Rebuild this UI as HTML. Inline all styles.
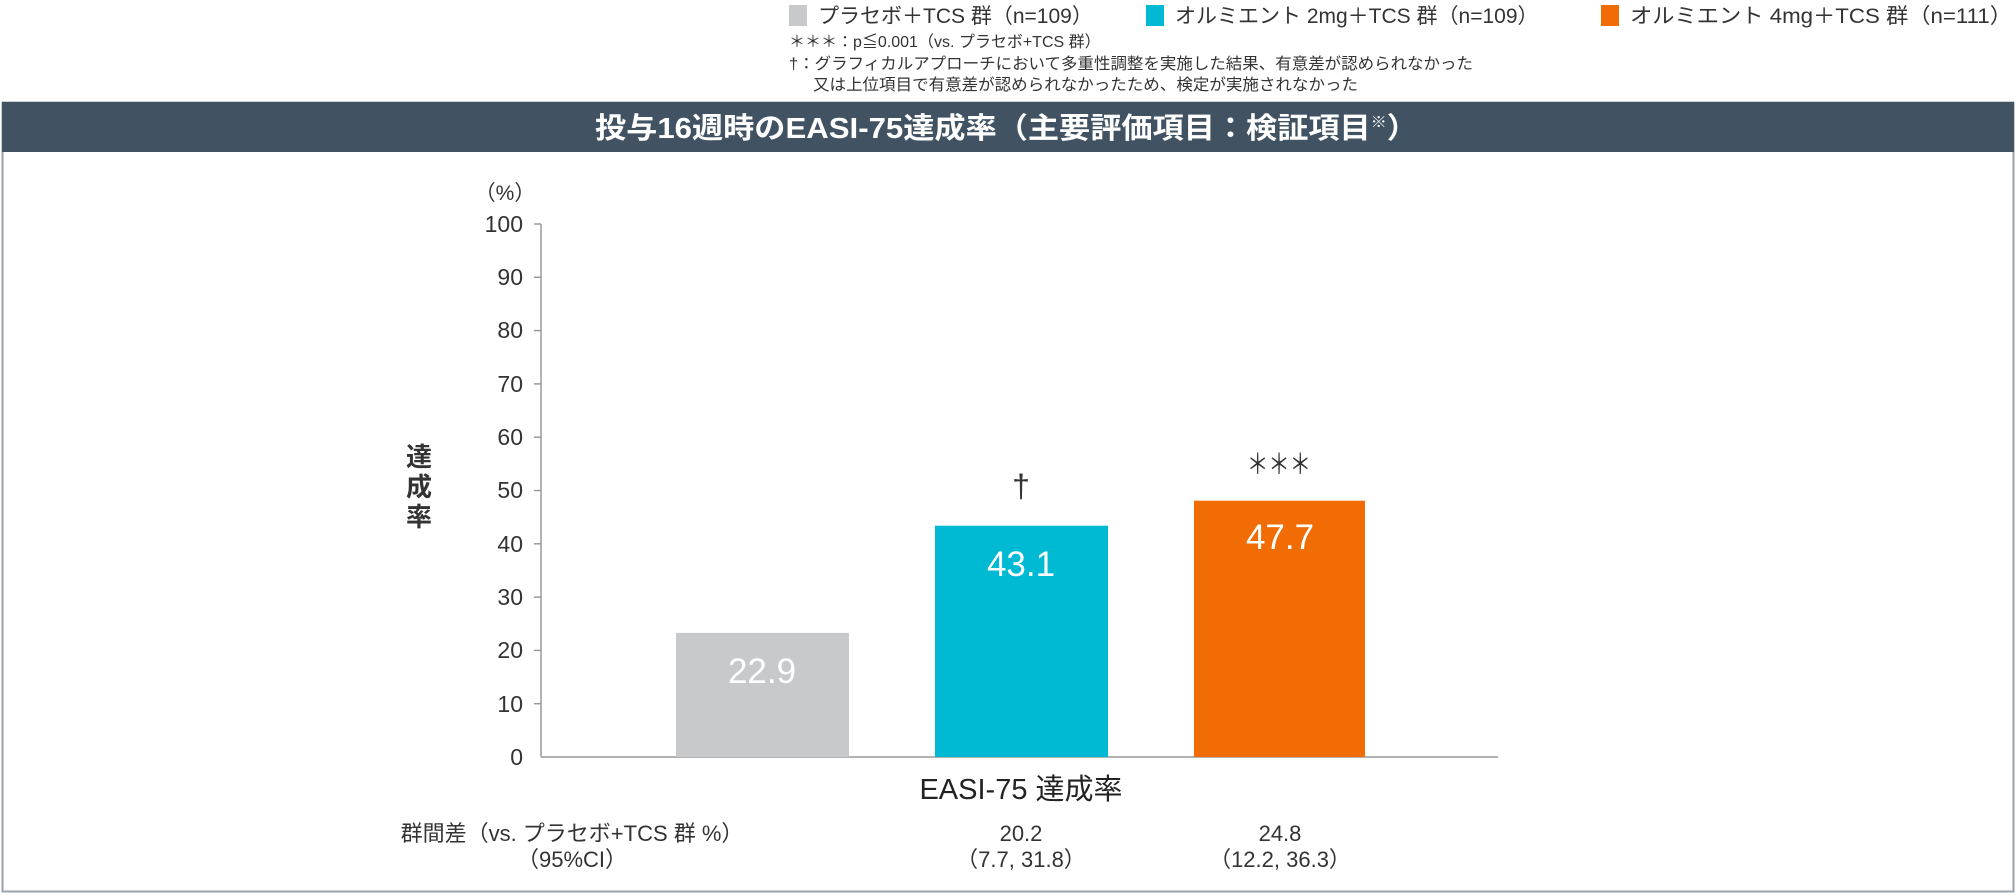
<!DOCTYPE html>
<html><head><meta charset="utf-8"><style>
html,body{margin:0;padding:0;background:#fff;width:2016px;height:895px;overflow:hidden}
svg text{font-family:"Liberation Sans","Noto Sans CJK JP",sans-serif}
</style></head><body>
<svg width="2016" height="895" viewBox="0 0 2016 895" xmlns="http://www.w3.org/2000/svg">
<rect x="789" y="5" width="18" height="21" fill="#c8c9cb"/>
<text x="818" y="23" font-size="21" fill="#333">プラセボ＋TCS 群（n=109）</text>
<rect x="1146" y="5" width="18" height="21" fill="#00b9d3"/>
<text x="1175" y="23" font-size="21" fill="#333">オルミエント 2mg＋TCS 群（n=109）</text>
<rect x="1601" y="5" width="18" height="21" fill="#f26c05"/>
<text x="1630" y="23" font-size="21" fill="#333" textLength="382" lengthAdjust="spacingAndGlyphs">オルミエント 4mg＋TCS 群（n=111）</text>
<text x="789" y="47" font-size="16" fill="#333">＊＊＊：p≦0.001（vs. プラセボ+TCS 群）</text>
<text x="789" y="69" font-size="16" fill="#333" textLength="684" lengthAdjust="spacingAndGlyphs">†：グラフィカルアプローチにおいて多重性調整を実施した結果、有意差が認められなかった</text>
<text x="813" y="90" font-size="16" fill="#333" textLength="545" lengthAdjust="spacingAndGlyphs">又は上位項目で有意差が認められなかったため、検定が実施されなかった</text>
<rect x="2.5" y="102.5" width="2011" height="789" fill="none" stroke="#9aa3ab" stroke-width="2"/>
<rect x="2" y="102" width="2012" height="50" fill="#415263"/>
<text x="595" y="138" font-size="29" font-weight="bold" fill="#fff" textLength="823" lengthAdjust="spacingAndGlyphs">投与16週時のEASI-75達成率（主要評価項目：検証項目<tspan font-size="15" dy="-11">※</tspan><tspan dy="11">）</tspan></text>
<text x="505" y="200" font-size="21" fill="#333" text-anchor="middle">（%）</text>
<g stroke="#999" stroke-width="1.5">
<line x1="541" y1="224" x2="541" y2="757"/>
<line x1="541" y1="757" x2="1498" y2="757"/>
<line x1="534" y1="224" x2="541" y2="224"/><line x1="534" y1="277.3" x2="541" y2="277.3"/>
<line x1="534" y1="330.6" x2="541" y2="330.6"/><line x1="534" y1="383.9" x2="541" y2="383.9"/>
<line x1="534" y1="437.2" x2="541" y2="437.2"/><line x1="534" y1="490.5" x2="541" y2="490.5"/>
<line x1="534" y1="543.8" x2="541" y2="543.8"/><line x1="534" y1="597.1" x2="541" y2="597.1"/>
<line x1="534" y1="650.4" x2="541" y2="650.4"/><line x1="534" y1="703.7" x2="541" y2="703.7"/>
</g>
<g font-size="23" fill="#333" text-anchor="end">
<text x="523" y="232">100</text><text x="523" y="285">90</text><text x="523" y="338">80</text>
<text x="523" y="392">70</text><text x="523" y="445">60</text><text x="523" y="498">50</text>
<text x="523" y="552">40</text><text x="523" y="605">30</text><text x="523" y="658">20</text>
<text x="523" y="712">10</text><text x="523" y="765">0</text>
</g>
<g font-size="26" font-weight="bold" fill="#333" text-anchor="middle">
<text x="419" y="466">達</text><text x="419" y="496">成</text><text x="419" y="526">率</text>
</g>
<rect x="676" y="632.9" width="173" height="124.1" fill="#c8c9cb"/>
<rect x="935" y="525.7" width="173" height="231.3" fill="#00b9d3"/>
<rect x="1194" y="500.7" width="171" height="256.3" fill="#f26c05"/>
<g font-size="35" fill="#fff" text-anchor="middle">
<text x="762" y="683">22.9</text><text x="1021" y="576">43.1</text><text x="1280" y="549">47.7</text>
</g>
<text x="1021" y="497" font-size="32" fill="#333" text-anchor="middle">†</text>
<text x="1279" y="474" font-size="28" fill="#333" text-anchor="middle" textLength="64" lengthAdjust="spacingAndGlyphs">＊＊＊</text>
<text x="1021" y="799" font-size="29" fill="#222" text-anchor="middle">EASI-75 達成率</text>
<g font-size="22" fill="#333" text-anchor="middle">
<text x="572" y="841">群間差（vs. プラセボ+TCS 群 %）</text>
<text x="572" y="867">（95%CI）</text>
<text x="1021" y="841">20.2</text><text x="1021" y="867">（7.7, 31.8）</text>
<text x="1280" y="841">24.8</text><text x="1280" y="867">（12.2, 36.3）</text>
</g>
</svg>
</body></html>
